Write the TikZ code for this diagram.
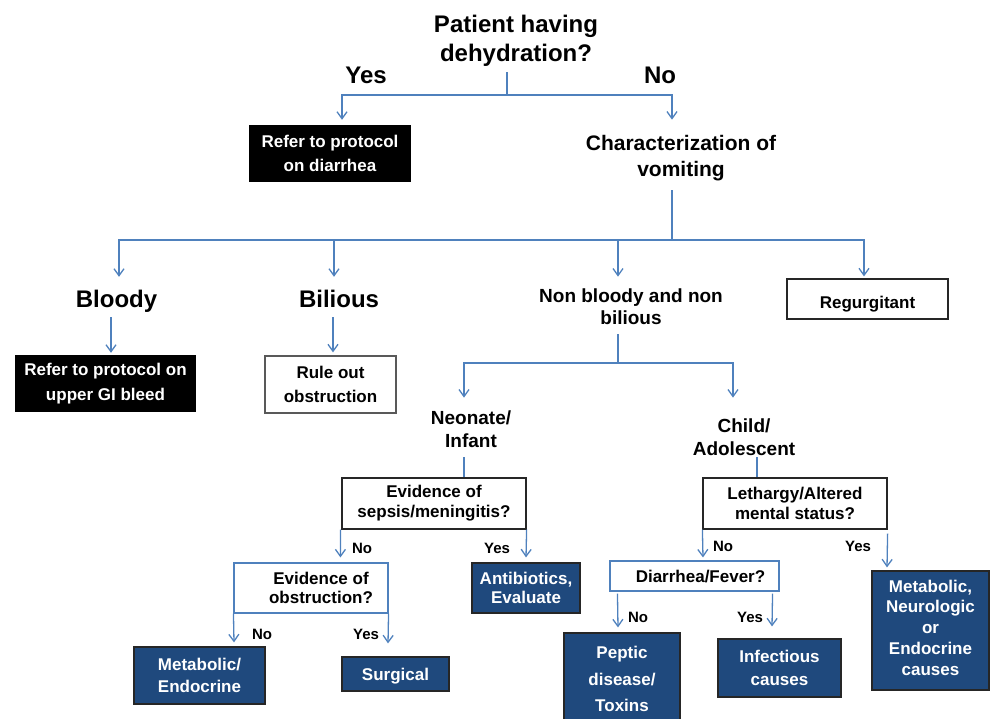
\documentclass[tikz,border=0pt]{standalone}
\usepackage{fontspec}
\setmainfont{Liberation Sans}
\usetikzlibrary{arrows.meta,calc}
\definecolor{lblue}{HTML}{4F81BD}
\definecolor{dblue}{HTML}{1F497D}
\newcommand\myfs[2]{\fontsize{#1}{#2}\selectfont\bfseries}
\begin{document}
\begin{tikzpicture}[x=1pt,y=-1pt,
  ln/.style={draw=lblue,line width=1.3pt},
  arr/.style={ln,-{Straight Barb[length=7pt,width=10pt]}},
  ttl/.style={inner sep=0pt,align=center},
  bigl/.style={inner sep=0pt,anchor=base,font=\myfs{24}{29}},
  big/.style={bigl,text height=17pt,text depth=5pt},
  lbl/.style={inner sep=0pt,anchor=base,font=\myfs{15}{18}},
  blackbox/.style={fill=black,text=white,inner sep=0pt,align=center},
  wbox/.style={draw=#1,fill=white,line width=1.2pt,inner sep=0pt,align=center},
  dbox/.style={fill=dblue,draw=black!85,line width=1.2pt,text=white,inner sep=0pt,align=center}]
\useasboundingbox (0,0) rectangle (990,718);

% top
\node[ttl,font=\myfs{24}{29}] (q1) at (516,40.4) {Patient having\\dehydration?};
\node[bigl] (yes1) at (366,83) {Yes};
\node[bigl] (no1) at (660,83) {No};
\node[blackbox,font=\myfs{17}{24},minimum width=162pt,minimum height=57pt] (diar) at (330,153.5) {Refer to protocol\\on diarrhea};
\node[ttl,font=\myfs{21}{26}] (q2) at (681,157.7) {Characterization of\\vomiting};

% second level
\node[big] (bloody) at (116.5,307) {Bloody};
\node[big] (bilious) at (339,307) {Bilious};
\node[ttl,font=\myfs{19}{22}] (nbnb) at (631,307.2) {Non bloody and non\\bilious};
\node[wbox=black!85,font=\myfs{17}{20},minimum width=161pt,minimum height=40pt,text height=18pt,text depth=0pt] (regurg) at (867.5,299) {Regurgitant};

\node[blackbox,font=\myfs{17}{25},minimum width=181pt,minimum height=57pt] (gibleed) at (105.5,383.5) {Refer to protocol on\\upper GI bleed};
\node[wbox=black!65,font=\myfs{17}{24},minimum width=131pt,minimum height=57pt] (ruleout) at (330.5,384.5) {Rule out\\obstruction};

\node[ttl,font=\myfs{19}{23}] (neo) at (471,429.7) {Neonate/\\Infant};
\node[ttl,font=\myfs{19}{23}] (child) at (744,437.7) {Child/\\Adolescent};

% neonate branch
\node[wbox=black!85,font=\myfs{17}{20},minimum width=184pt,minimum height=51pt] (sepsis) at (434,503.5) {Evidence of\\sepsis/meningitis?};
\node[lbl] (sno) at (362,553) {No};
\node[lbl] (syes) at (497,553) {Yes};
\node[wbox=lblue,line width=1.1pt,font=\myfs{17}{19.5},minimum width=154pt,minimum height=50pt] (obst) at (311,588) {\hspace*{20pt}Evidence of\\\hspace*{20pt}obstruction?};
\node[dbox,font=\myfs{17}{19.5},minimum width=108pt,minimum height=50pt] (antib) at (526,588) {Antibiotics,\\Evaluate};
\node[lbl] (ono) at (262,639) {No};
\node[lbl] (oyes) at (366,639) {Yes};
\node[dbox,font=\myfs{17}{22},minimum width=131pt,minimum height=57pt] (metendo) at (199.5,675.5) {Metabolic/\\Endocrine};
\node[dbox,font=\myfs{17}{20},minimum width=107pt,minimum height=34pt,text height=12.2pt,text depth=0pt] (surg) at (395.5,674) {Surgical};

% child branch
\node[wbox=black!85,font=\myfs{17}{19.5},minimum width=184pt,minimum height=51pt] (leth) at (795,503.5) {Lethargy/Altered\\mental status?};
\node[lbl] (lno) at (723,551) {No};
\node[lbl] (lyes) at (858,551) {Yes};
\node[wbox=lblue,line width=1.1pt,font=\myfs{17}{20},minimum width=169pt,minimum height=30pt,text height=12.2pt,text depth=0pt] (diafev) at (694.5,576) {\hspace*{12pt}Diarrhea/Fever?};
\node[lbl] (dno) at (638,622) {No};
\node[lbl] (dyes) at (750,622) {Yes};
\node[dbox,font=\myfs{17}{26.5},minimum width=116pt,minimum height=92pt] (peptic) at (622,679) {Peptic\\disease/\\Toxins};
\node[dbox,font=\myfs{17}{22.5},minimum width=123pt,minimum height=58pt] (infect) at (779.5,668) {Infectious\\causes};
\node[dbox,font=\myfs{17}{20.7},minimum width=117pt,minimum height=119pt,yshift=0pt] (metneuro) at (930.5,630.5) {Metabolic,\\Neurologic\\or\\Endocrine\\causes\rule[-6pt]{0pt}{6pt}};

% connectors
\coordinate (f1) at (507,95);
\draw[ln] ($(q1.south)+(-9,6)$) -- (f1);
\draw[arr] (f1) -| ($(diar.north)+(12,-5)$);
\draw[arr] (f1) -| ($(q2.north)+(-9,-15)$);

\coordinate (f2) at (672,240);
\draw[ln] ($(q2.south)+(-9,9.6)$) -- (f2);
\draw[arr] (f2) -| ($(bloody.north)+(2.5,-13)$);
\draw[arr] (f2) -| ($(bilious.north)+(-5,-13)$);
\draw[arr] (f2) -| ($(nbnb.north)+(-13,-12.4)$);
\draw[arr] (f2) -| ($(regurg.north)+(-3.5,-2)$);

\draw[arr] ($(bloody.south)+(-5.5,5)$) -- ($(gibleed.north)+(5.5,-2)$);
\draw[arr] ($(bilious.south)+(-6,5)$) -- ($(ruleout.north)+(2.5,-3)$);

\coordinate (f3) at (618,363);
\draw[ln] ($(nbnb.south)+(-13,9)$) -- (f3);
\draw[arr] (f3) -| ($(neo.north)+(-7,-13.4)$);
\draw[arr] (f3) -| ($(child.north)+(-11,-21.4)$);

\draw[ln] ($(neo.south)+(-7,9)$) -- ($(sepsis.north)+(30,0)$);
\draw[ln] ($(child.south)+(13,1)$) -- ($(leth.north)+(-38,0)$);

\draw[arr] ($(sepsis.south west)+(-1,0)$) -- ($(obst.north west)+(107,-5)$);
\draw[arr] (sepsis.south east) -- ($(antib.north)+(0,-5)$);
\draw[arr] (obst.south west) -- ($(metendo.north)+(34.5,-4)$);
\draw[arr] (obst.south east) -- ($(surg.north)+(-7.5,-13)$);

\draw[arr] (leth.south west) -- ($(diafev.north)+(8.5,-3)$);
\draw[arr] ($(leth.south east)+(0,4)$) -- ($(metneuro.north)+(-43.5,-3)$);
\draw[arr] ($(diafev.south west)+(8,2)$) -- ($(peptic.north)+(-4,-5)$);
\draw[arr] ($(diafev.south east)+(-7,2)$) -- ($(infect.north)+(-7.5,-12)$);
\end{tikzpicture}
\end{document}
